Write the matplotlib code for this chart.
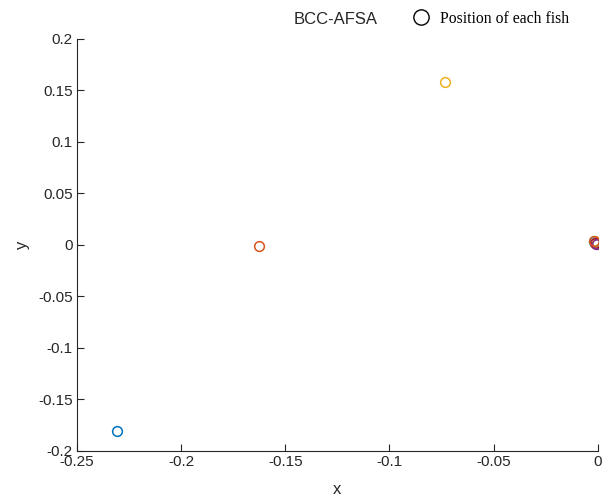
import numpy as np
import matplotlib.pyplot as plt

# fish positions
fish_x = [-0.2305, -0.1625, -0.0735, -0.0016, -0.0008, -0.0020, -0.0005, -0.0012, -0.0003, -0.0018]
fish_y = [-0.1810, -0.0010, 0.1585, 0.0035, 0.0010, 0.0025, 0.0030, 0.0015, 0.0005, 0.0040]
fish_colors = ['#0072BD', '#D95319', '#EDB120', '#77AC30', '#7E2F8E', '#4DBEEE',
               '#EDB120', '#A2142F', '#7E2F8E', '#D95319']

plt.rcParams['font.family'] = ['Liberation Sans', 'DejaVu Sans']

fig = plt.figure(figsize=(6.1, 4.97), dpi=100)
ax = fig.add_axes([0.126, 0.0926, 0.854, 0.829])

for x, y, c in zip(fish_x, fish_y, fish_colors):
    ax.plot(x, y, 'o', markerfacecolor='none', markeredgecolor=c, markersize=7, markeredgewidth=1.1)

ax.set_xlim(-0.25, 0)
ax.set_ylim(-0.2, 0.2)
ax.set_xticks([-0.25, -0.2, -0.15, -0.1, -0.05, 0])
ax.set_xticklabels(['-0.25', '-0.2', '-0.15', '-0.1', '-0.05', '0'])
ax.set_yticks([-0.2, -0.15, -0.1, -0.05, 0, 0.05, 0.1, 0.15, 0.2])
ax.set_yticklabels(['-0.2', '-0.15', '-0.1', '-0.05', '0', '0.05', '0.1', '0.15', '0.2'])
ax.tick_params(direction='in', length=5, labelsize=11, colors='#262626', pad=3)
ax.spines['top'].set_visible(False)
ax.spines['right'].set_visible(False)
for s in ['left', 'bottom']:
    ax.spines[s].set_color('#262626')
ax.set_xlabel('x', fontsize=12, color='#262626', labelpad=9)
ax.set_ylabel('y', fontsize=12, color='#262626', labelpad=6)

# title and legend above the plot
fig.text(0.55, 0.96, 'BCC-AFSA', ha='center', va='center', fontsize=12, color='#262626')
legend_handle = ax.plot([], [], 'o', markerfacecolor='none', markeredgecolor='black',
                        markersize=11, markeredgewidth=1.0)[0]
fig.legend([legend_handle], ['Position of each fish'], loc='center left',
           bbox_to_anchor=(0.647, 0.962), frameon=False, handletextpad=0.5,
           handlelength=1.5, prop={'family': 'Liberation Serif', 'size': 11.3})

fig.savefig('out.png', dpi=100)
